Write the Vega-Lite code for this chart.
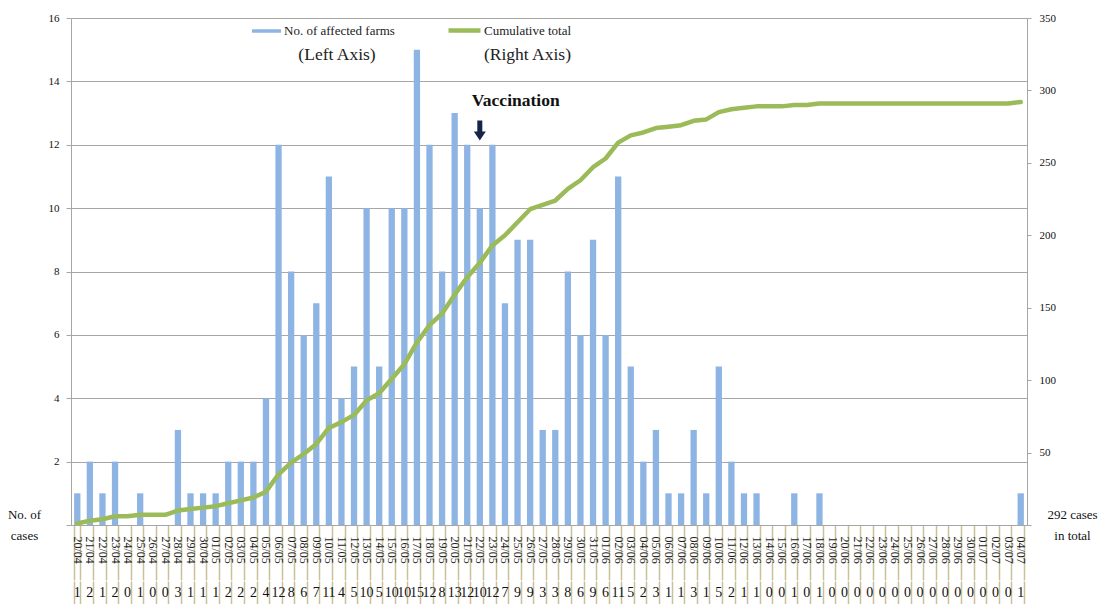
{
  "$schema": "https://vega.github.io/schema/vega-lite/v6.json",
  "background": "white",
  "autosize": {"type": "pad"},
  "padding": {"left": 7, "top": 12, "right": 0, "bottom": 0},
  "config": {
    "font": "Liberation Serif",
    "view": {"stroke": null},
    "concat": {"spacing": 0}
  },
  "datasets": {
    "days": [
      {"date": "20/04", "count": 1, "cumulative": 1},
      {"date": "21/04", "count": 2, "cumulative": 3},
      {"date": "22/04", "count": 1, "cumulative": 4},
      {"date": "23/04", "count": 2, "cumulative": 6},
      {"date": "24/04", "count": 0, "cumulative": 6},
      {"date": "25/04", "count": 1, "cumulative": 7},
      {"date": "26/04", "count": 0, "cumulative": 7},
      {"date": "27/04", "count": 0, "cumulative": 7},
      {"date": "28/04", "count": 3, "cumulative": 10},
      {"date": "29/04", "count": 1, "cumulative": 11},
      {"date": "30/04", "count": 1, "cumulative": 12},
      {"date": "01/05", "count": 1, "cumulative": 13},
      {"date": "02/05", "count": 2, "cumulative": 15},
      {"date": "03/05", "count": 2, "cumulative": 17},
      {"date": "04/05", "count": 2, "cumulative": 19},
      {"date": "05/05", "count": 4, "cumulative": 23},
      {"date": "06/05", "count": 12, "cumulative": 35},
      {"date": "07/05", "count": 8, "cumulative": 43},
      {"date": "08/05", "count": 6, "cumulative": 49},
      {"date": "09/05", "count": 7, "cumulative": 56},
      {"date": "10/05", "count": 11, "cumulative": 67},
      {"date": "11/05", "count": 4, "cumulative": 71},
      {"date": "12/05", "count": 5, "cumulative": 76},
      {"date": "13/05", "count": 10, "cumulative": 86},
      {"date": "14/05", "count": 5, "cumulative": 91},
      {"date": "15/05", "count": 10, "cumulative": 101},
      {"date": "16/05", "count": 10, "cumulative": 111},
      {"date": "17/05", "count": 15, "cumulative": 126},
      {"date": "18/05", "count": 12, "cumulative": 138},
      {"date": "19/05", "count": 8, "cumulative": 146},
      {"date": "20/05", "count": 13, "cumulative": 159},
      {"date": "21/05", "count": 12, "cumulative": 171},
      {"date": "22/05", "count": 10, "cumulative": 181},
      {"date": "23/05", "count": 12, "cumulative": 193},
      {"date": "24/05", "count": 7, "cumulative": 200},
      {"date": "25/05", "count": 9, "cumulative": 209},
      {"date": "26/05", "count": 9, "cumulative": 218},
      {"date": "27/05", "count": 3, "cumulative": 221},
      {"date": "28/05", "count": 3, "cumulative": 224},
      {"date": "29/05", "count": 8, "cumulative": 232},
      {"date": "30/05", "count": 6, "cumulative": 238},
      {"date": "31/05", "count": 9, "cumulative": 247},
      {"date": "01/06", "count": 6, "cumulative": 253},
      {"date": "02/06", "count": 11, "cumulative": 264},
      {"date": "03/06", "count": 5, "cumulative": 269},
      {"date": "04/06", "count": 2, "cumulative": 271},
      {"date": "05/06", "count": 3, "cumulative": 274},
      {"date": "06/06", "count": 1, "cumulative": 275},
      {"date": "07/06", "count": 1, "cumulative": 276},
      {"date": "08/06", "count": 3, "cumulative": 279},
      {"date": "09/06", "count": 1, "cumulative": 280},
      {"date": "10/06", "count": 5, "cumulative": 285},
      {"date": "11/06", "count": 2, "cumulative": 287},
      {"date": "12/06", "count": 1, "cumulative": 288},
      {"date": "13/06", "count": 1, "cumulative": 289},
      {"date": "14/06", "count": 0, "cumulative": 289},
      {"date": "15/06", "count": 0, "cumulative": 289},
      {"date": "16/06", "count": 1, "cumulative": 290},
      {"date": "17/06", "count": 0, "cumulative": 290},
      {"date": "18/06", "count": 1, "cumulative": 291},
      {"date": "19/06", "count": 0, "cumulative": 291},
      {"date": "20/06", "count": 0, "cumulative": 291},
      {"date": "21/06", "count": 0, "cumulative": 291},
      {"date": "22/06", "count": 0, "cumulative": 291},
      {"date": "23/06", "count": 0, "cumulative": 291},
      {"date": "24/06", "count": 0, "cumulative": 291},
      {"date": "25/06", "count": 0, "cumulative": 291},
      {"date": "26/06", "count": 0, "cumulative": 291},
      {"date": "27/06", "count": 0, "cumulative": 291},
      {"date": "28/06", "count": 0, "cumulative": 291},
      {"date": "29/06", "count": 0, "cumulative": 291},
      {"date": "30/06", "count": 0, "cumulative": 291},
      {"date": "01/07", "count": 0, "cumulative": 291},
      {"date": "02/07", "count": 0, "cumulative": 291},
      {"date": "03/07", "count": 0, "cumulative": 291},
      {"date": "04/07", "count": 1, "cumulative": 292}
    ]
  },
  "vconcat": [
    {
      "width": 956,
      "height": 507,
      "data": {"name": "days"},
      "encoding": {
        "x": {
          "field": "date",
          "type": "nominal",
          "sort": null,
          "scale": {"paddingInner": 0.5, "paddingOuter": 0.25},
          "axis": {
            "title": null,
            "labelAngle": 90,
            "labelAlign": "left",
            "labelBaseline": "middle",
            "labelFontSize": 12,
            "labelColor": "#222222",
            "labelPadding": -44,
            "labelOverlap": false,
            "labelFlush": false,
            "tickBand": "extent",
            "tickColor": "#cbc199",
            "tickWidth": 1.5,
            "tickSize": 55,
            "domainColor": "#a6a6a6",
            "domainWidth": 1
          }
        }
      },
      "layer": [
        {
          "mark": {"type": "bar"},
          "encoding": {
            "y": {
              "field": "count",
              "type": "quantitative",
              "scale": {"domain": [0, 16], "nice": false},
              "axis": {
                "values": [0, 2, 4, 6, 8, 10, 12, 14, 16],
                "labelExpr": "datum.value == 0 ? '' : datum.label",
                "labelFontSize": 11,
                "labelColor": "#111111",
                "labelPadding": 7,
                "tickColor": "#a6a6a6",
                "tickSize": 5,
                "domainColor": "#a6a6a6",
                "grid": true,
                "gridColor": "#a6a6a6",
                "gridWidth": 1,
                "title": ["No. of", "cases"],
                "titleAngle": 0,
                "titleX": -47,
                "titleY": 496,
                "titleAlign": "center",
                "titleBaseline": "middle",
                "titleFontSize": 13,
                "titleFontWeight": "normal",
                "titleColor": "#111111",
                "titleLineHeight": 21
              }
            },
            "fill": {
              "datum": "No. of affected farms",
              "scale": {"range": ["#8db4e2"]},
              "legend": {
                "orient": "none",
                "legendX": 181,
                "legendY": -1.5,
                "direction": "horizontal",
                "padding": 0,
                "title": "(Left Axis)",
                "titleOrient": "bottom",
                "titleAnchor": "middle",
                "titleFontSize": 17.5,
                "titleFontWeight": "normal",
                "titleColor": "#222222",
                "titlePadding": 7,
                "labelFontSize": 13,
                "labelColor": "#222222",
                "labelOffset": 3,
                "symbolType": "M-1,-0.12H1V0.12H-1Z",
                "symbolSize": 841,
                "symbolStrokeWidth": 0,
                "encode": {"title": {"update": {"dx": {"value": 14}}}}
              }
            }
          }
        },
        {
          "mark": {"type": "line", "strokeWidth": 4.5, "strokeCap": "round", "strokeJoin": "round"},
          "encoding": {
            "y": {
              "field": "cumulative",
              "type": "quantitative",
              "scale": {"domain": [0, 350], "nice": false},
              "axis": {
                "orient": "right",
                "values": [0, 50, 100, 150, 200, 250, 300, 350],
                "labelExpr": "datum.value == 0 ? '' : datum.label",
                "labelFontSize": 11,
                "labelColor": "#111111",
                "labelPadding": 8,
                "tickColor": "#a6a6a6",
                "tickSize": 4,
                "domainColor": "#a6a6a6",
                "grid": false,
                "title": ["292 cases", "in total"],
                "titleAngle": 0,
                "titleX": 45,
                "titleY": 496,
                "titleAlign": "center",
                "titleBaseline": "middle",
                "titleFontSize": 13,
                "titleFontWeight": "normal",
                "titleColor": "#111111",
                "titleLineHeight": 21
              }
            },
            "stroke": {
              "datum": "Cumulative total",
              "scale": {"range": ["#9bbb59"]},
              "legend": {
                "orient": "none",
                "legendX": 375,
                "legendY": -6,
                "direction": "horizontal",
                "padding": 0,
                "title": "(Right Axis)",
                "titleOrient": "bottom",
                "titleAnchor": "end",
                "titleFontSize": 17.5,
                "titleFontWeight": "normal",
                "titleColor": "#222222",
                "titlePadding": 6,
                "labelFontSize": 13,
                "labelColor": "#222222",
                "labelOffset": 1,
                "symbolType": "stroke",
                "symbolSize": 1024,
                "symbolStrokeWidth": 4.5
              }
            }
          }
        },
        {
          "transform": [{"filter": "datum.date == '22/05'"}],
          "mark": {"type": "text", "text": "Vaccination", "fontSize": 17.5, "fontWeight": "bold", "align": "left", "dx": -8, "color": "#111111"},
          "encoding": {
            "y": {"datum": 13.38, "type": "quantitative", "scale": {"domain": [0, 16], "nice": false}, "axis": null}
          }
        },
        {
          "transform": [{"filter": "datum.date == '22/05'"}],
          "mark": {"type": "point", "filled": true, "shape": "M-0.25,-1H0.25V0.1H0.6L0,1L-0.6,0.1H-0.25Z", "size": 400, "color": "#17244a", "opacity": 1},
          "encoding": {
            "y": {"datum": 12.45, "type": "quantitative", "scale": {"domain": [0, 16], "nice": false}, "axis": null}
          }
        }
      ],
      "resolve": {"scale": {"y": "independent", "fill": "independent", "stroke": "independent"}}
    },
    {
      "width": 956,
      "height": 24,
      "data": {"name": "days"},
      "mark": {"type": "text", "fontSize": 14, "color": "#111111"},
      "encoding": {
        "x": {
          "field": "date",
          "type": "nominal",
          "sort": null,
          "scale": {"paddingInner": 0.5, "paddingOuter": 0.25},
          "axis": {
            "title": null,
            "labels": false,
            "ticks": false,
            "domain": false,
            "grid": true,
            "gridColor": "#cbc199",
            "gridWidth": 1.5,
            "tickBand": "extent"
          }
        },
        "text": {"field": "count", "type": "quantitative"}
      }
    }
  ]
}
